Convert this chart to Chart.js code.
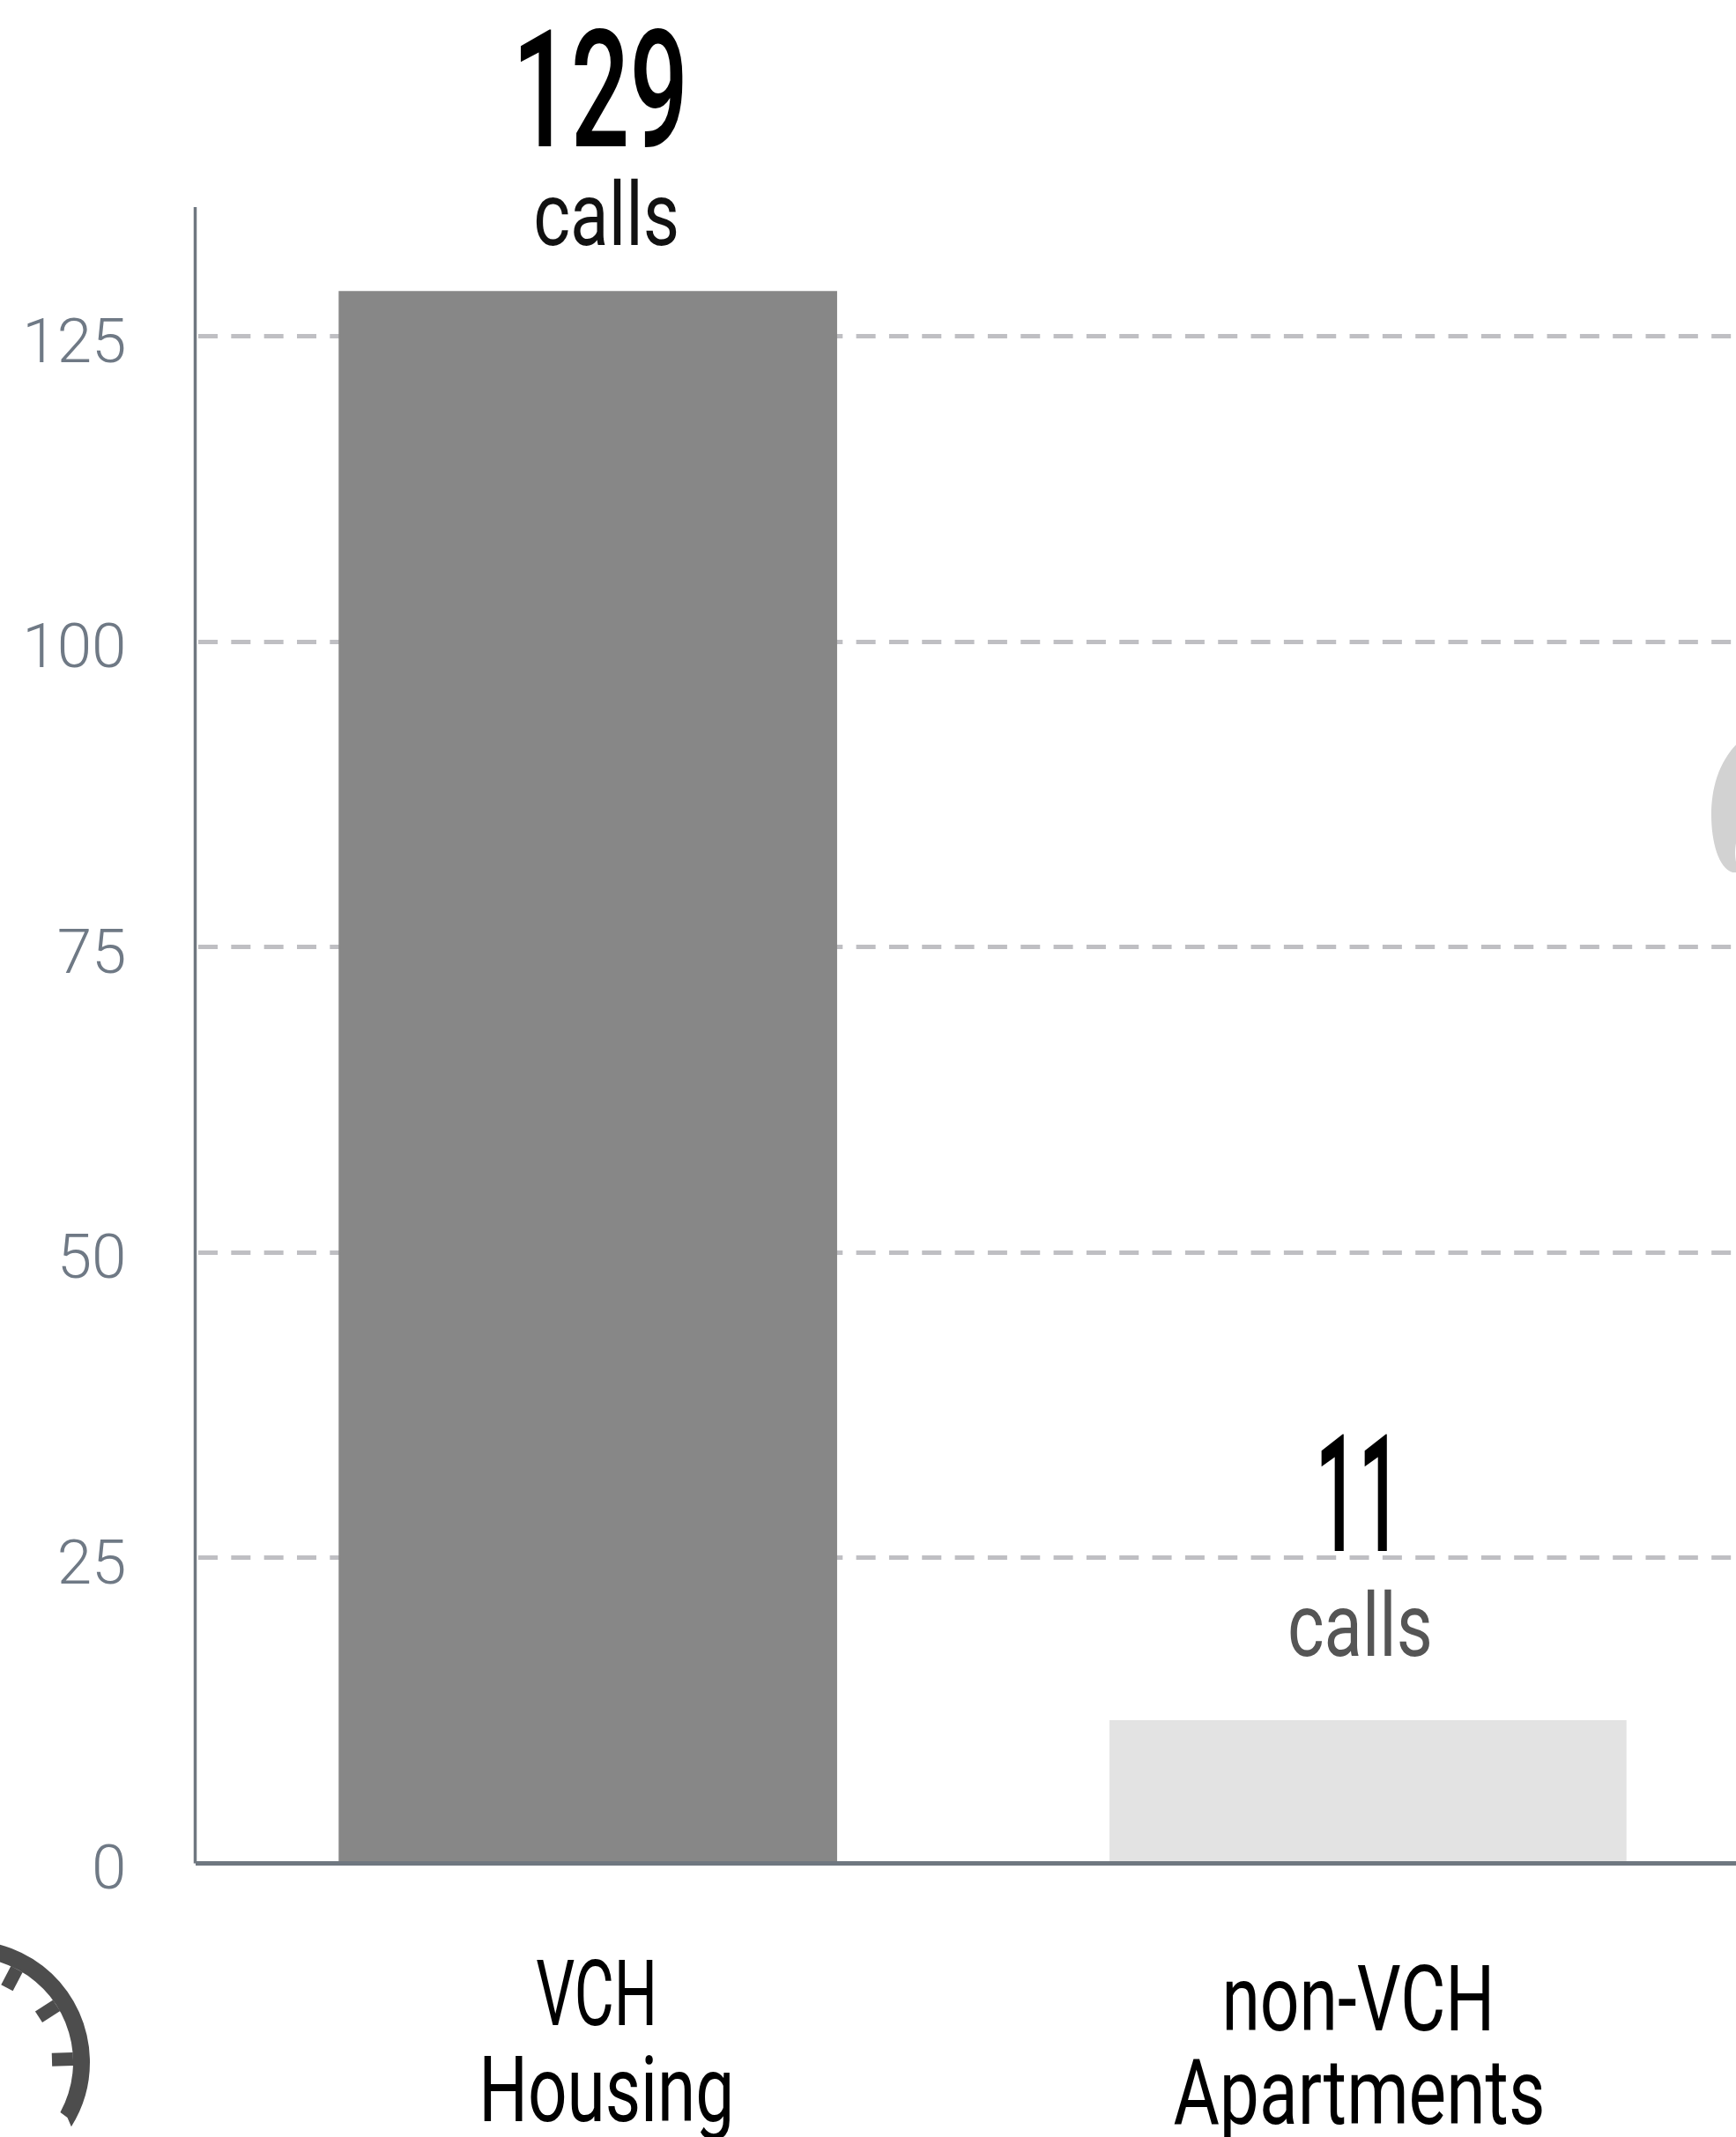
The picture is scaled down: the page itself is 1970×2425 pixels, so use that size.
<!DOCTYPE html>
<html><head><meta charset="utf-8">
<style>html,body{margin:0;padding:0;background:#fff;overflow:hidden;width:1970px;height:2425px}canvas{display:block}</style>
<script src="https://cdn.jsdelivr.net/npm/chart.js@4"></script>
</head><body><canvas id="c" width="1995" height="2425"></canvas>
<script>
const categories = [["VCH","Housing"],["non-VCH","Apartments"]];
const barHeights = [128.7, 11.7];
const calloutValues = ["129","11"];
const calloutUnit = "calls";
const yTicks = [0,25,50,75,100,125];

const AREA = {left:224.5, top:235, bottom:2114.5, canvasH:2425};
const DISPLAY_FONT = 'Roboto';
// per-category text placement relative to the bar centre / bar top
const calloutStyle = [
  {num:{dx:14,dy:-165,w:200}, unit:{dx:21,dy:-53,w:166,color:'#111111'}},
  {num:{dx:-11,dy:-192,w:98}, unit:{dx:-9,dy:-73,w:165,color:'#555555'}}
];
const labelStyle = [
  [{dx:10,y:2298,w:138},{dx:21,y:2407,w:290}],
  [{dx:-11,y:2304,w:310},{dx:-10,y:2410,w:422}]
];

function fitText(ctx,str,cx,y,px,w,color,weight){
  ctx.save();
  ctx.font=`${weight} ${px}px ${DISPLAY_FONT}`;
  ctx.textAlign='left';ctx.textBaseline='alphabetic';ctx.fillStyle=color;
  const natural=ctx.measureText(str).width, k=w/natural;
  ctx.translate(cx-w/2,y);ctx.scale(k,1);ctx.fillText(str,0,0);
  ctx.restore();
}

const decorations={id:'decorations',afterDraw(chart){
  const ctx=chart.ctx,y=chart.scales.y,x=chart.scales.x;
  // y axis line, sits just left of the plot area
  ctx.save();ctx.strokeStyle='#6f7780';ctx.lineWidth=3.5;
  ctx.beginPath();ctx.moveTo(chart.chartArea.left-3,chart.chartArea.top);ctx.lineTo(chart.chartArea.left-3,chart.chartArea.bottom);ctx.stroke();ctx.restore();

  barHeights.forEach((v,i)=>{
    const cx=x.getPixelForValue(i),top=y.getPixelForValue(v),s=calloutStyle[i];
    fitText(ctx,calloutValues[i],cx+s.num.dx,top+s.num.dy,185,s.num.w,'#000000',500);
    fitText(ctx,calloutUnit,cx+s.unit.dx,top+s.unit.dy,101,s.unit.w,s.unit.color,400);
    categories[i].forEach((line,j)=>{
      const l=labelStyle[i][j];
      fitText(ctx,line,cx+l.dx,l.y,103,l.w,'#000000',400);
    });
  });

  // cropped gauge icon, bottom left
  ctx.save();ctx.fillStyle='#4d4d4d';ctx.strokeStyle='#4d4d4d';
  const gx=-36,gy=2340,R=138,r=119;
  ctx.beginPath();ctx.arc(gx,gy,R,-1.6,0.56);ctx.lineTo(76.5,2403);ctx.arc(gx,gy,r,0.5,-1.6,true);ctx.closePath();ctx.fill();
  ctx.lineWidth=15;
  [-0.03,-0.57,-1.09].forEach(a=>{
    ctx.beginPath();ctx.moveTo(gx+r*Math.cos(a),gy+r*Math.sin(a));ctx.lineTo(gx+(r-24)*Math.cos(a),gy+(r-24)*Math.sin(a));ctx.stroke();
  });
  ctx.restore();

  // cropped light grey icon, right edge
  ctx.save();ctx.fillStyle='#d2d2d2';
  ctx.beginPath();ctx.moveTo(1972,843);ctx.bezierCurveTo(1950,865,1942,895,1942,925);ctx.bezierCurveTo(1942,955,1950,985,1966,990);ctx.lineTo(1972,990);ctx.lineTo(1972,985);ctx.bezierCurveTo(1968,975,1968,960,1972,950);ctx.closePath();ctx.fill();
  ctx.restore();
}};

new Chart(document.getElementById('c'),{
  type:'bar',
  data:{labels:categories.map(c=>c.join(' ')),datasets:[
    {label:'VCH Housing',data:[barHeights[0],null],backgroundColor:'#878787',barThickness:565,borderWidth:0},
    {label:'non-VCH Apartments',data:[null,barHeights[1]],backgroundColor:'#e3e3e3',barThickness:586,borderWidth:0}
  ]},
  plugins:[decorations],
  options:{
    responsive:false,animation:false,devicePixelRatio:1,
    layout:{padding:{left:0,top:AREA.top,right:0,bottom:0}},
    plugins:{legend:{display:false},tooltip:{enabled:false},title:{display:false}},
    scales:{
      x:{stacked:true,offset:true,
         grid:{display:false,drawTicks:false},
         border:{display:true,color:'#6f7780',width:5,z:1},
         ticks:{display:false},
         afterFit(s){s.height=AREA.canvasH-AREA.bottom;}},
      y:{stacked:false,min:0,max:135.6,
         afterFit(s){s.width=AREA.left;},
         grid:{color:'#bfbfc3',lineWidth:5,drawTicks:false},
         border:{display:false,dash:[22,15.33]},
         afterBuildTicks(s){s.ticks=yTicks.map(v=>({value:v}));},
         ticks:{padding:81,labelOffset:11,color:'#6f7985',font:{family:'Roboto',size:71,weight:300},includeBounds:false}}
    }
  }
});
</script></body></html>
